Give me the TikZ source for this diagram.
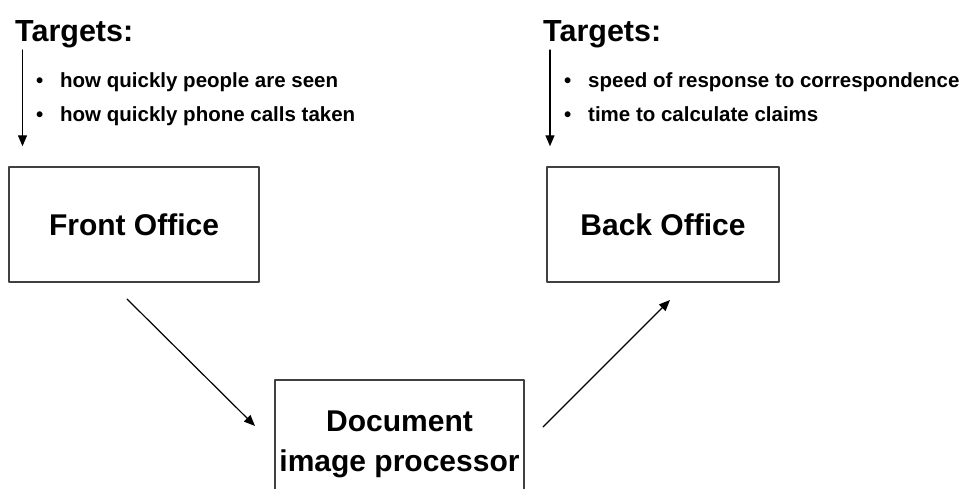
\documentclass[tikz,border=0pt]{standalone}
\usepackage{fontspec}
\setmainfont{Liberation Sans}
\usetikzlibrary{arrows.meta}

\begin{document}
\begin{tikzpicture}[x=1pt,y=-1pt,line cap=round,line join=round,>={Triangle[length=11pt,width=9pt]},
  office/.style={draw=black!75,line width=1.5pt,inner sep=0pt,align=center,font=\fontsize{30}{40}\selectfont\bfseries},
  head/.style={anchor=base west,inner sep=0pt,font=\fontsize{30.5}{34}\selectfont\bfseries},
  item/.style={anchor=base west,inner sep=0pt,font=\fontsize{20.5}{24}\selectfont\bfseries}]
    \useasboundingbox (0,0) rectangle (962,488);
    \clip (0,0) rectangle (962,488);
    \node[office,minimum width=250pt,minimum height=115pt] (front) at (134,224.5) {Front Office};
    \node[office,minimum width=232pt,minimum height=115pt] (back) at (663,224.5) {Back Office};
    \node[office,minimum width=249pt,minimum height=128pt] (dip) at (399.5,444) {Document\\image processor};
    \node[head] (tfront) at (15,41) {Targets:};
    \node[item] (f1) at (36,87) {\makebox[24pt][l]{•}how quickly people are seen};
    \node[item] (f2) at (36,121) {\makebox[24pt][l]{•}how quickly phone calls taken};
    \node[head] (tback) at (543,41) {Targets:};
    \node[item] (b1) at (564,87) {\makebox[24pt][l]{•}speed of response to correspondence};
    \node[item] (b2) at (564,121) {\makebox[24pt][l]{•}time to calculate claims};
    \coordinate (ftop) at (22.5,50);
    \coordinate (btop) at (550,50);
    \coordinate (fout) at (127,299);
    \coordinate (dipin) at (255,426);
    \coordinate (dipout) at (543,427);
    \coordinate (bin) at (670,300);
    \draw [->,line width=1.3pt,shorten >=20pt] (ftop) -- (ftop |- front.north);
    \draw [->,line width=1.3pt,shorten >=20pt] (btop) -- (btop |- back.north);
    \draw [->,line width=1.2pt] (fout) -- (dipin);
    \draw [->,line width=1.2pt] (dipout) -- (bin);
\end{tikzpicture}
\end{document}
